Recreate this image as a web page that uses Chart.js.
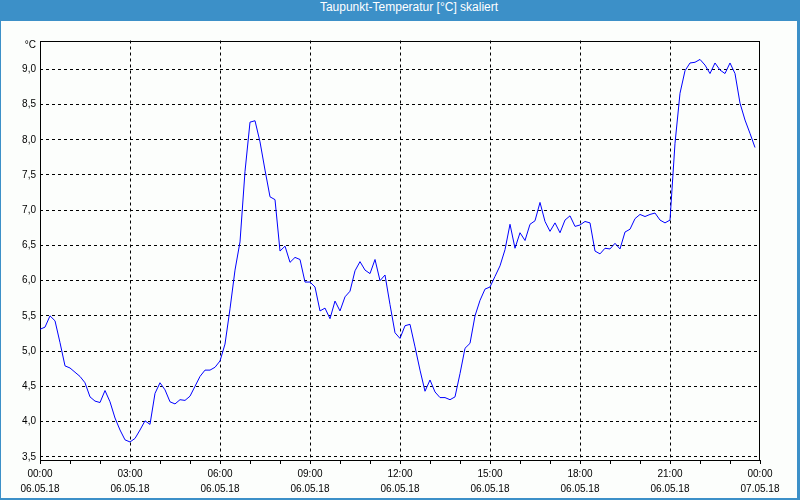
<!DOCTYPE html>
<html>
<head>
<meta charset="utf-8">
<script src="https://cdn.jsdelivr.net/npm/chart.js@4"></script>
<style>
  html, body { margin: 0; padding: 0; }
  body { width: 800px; height: 500px; position: relative; background: #3c90c8; overflow: hidden; }
  #title { position: absolute; left: 0; top: 0; width: 818px; height: 21px; line-height: 20px;
           color: #fff; font: 12px "Liberation Sans", sans-serif; text-align: center; }
  #panel { position: absolute; left: 1px; top: 21px; width: 796px; height: 477px; background: #fcfefc; }
</style>
</head>
<body>
<div id="title">Taupunkt-Temperatur [°C] skaliert</div>
<div id="panel"><canvas id="chart" width="796" height="477"></canvas></div>
<script>
// one reading every 10 minutes, starting 06.05.18 00:00
const stepMinutes = 10;
const dewPoint = [
  5.31, 5.34, 5.50, 5.43, 5.12, 4.79, 4.76, 4.70, 4.64, 4.55, 4.35, 4.29,
  4.27, 4.44, 4.28, 4.05, 3.88, 3.74, 3.71, 3.76, 3.88, 4.01, 3.96, 4.40,
  4.55, 4.45, 4.28, 4.25, 4.31, 4.30, 4.36, 4.50, 4.64, 4.73, 4.73, 4.77,
  4.86, 5.10, 5.60, 6.15, 6.55, 7.55, 8.25, 8.27, 7.97, 7.57, 7.19, 7.15,
  6.42, 6.49, 6.26, 6.33, 6.30, 5.98, 5.98, 5.91, 5.57, 5.61, 5.46, 5.71,
  5.57, 5.77, 5.85, 6.14, 6.27, 6.15, 6.10, 6.30, 6.00, 6.08, 5.66, 5.26,
  5.18, 5.36, 5.38, 5.06, 4.73, 4.43, 4.59, 4.42, 4.34, 4.34, 4.31, 4.35,
  4.68, 5.04, 5.11, 5.50, 5.72, 5.88, 5.91, 6.06, 6.21, 6.44, 6.80, 6.46,
  6.68, 6.57, 6.80, 6.85, 7.11, 6.84, 6.70, 6.82, 6.68, 6.86, 6.92, 6.77,
  6.79, 6.84, 6.82, 6.42, 6.38, 6.46, 6.45, 6.53, 6.45, 6.69, 6.73, 6.88,
  6.94, 6.91, 6.94, 6.96, 6.86, 6.82, 6.86, 7.95, 8.66, 8.98, 9.09, 9.10,
  9.14, 9.06, 8.94, 9.09, 8.99, 8.94, 9.09, 8.94, 8.52, 8.28, 8.09, 7.89
];

const timeLabels = ['00:00', '03:00', '06:00', '09:00', '12:00', '15:00', '18:00', '21:00', '00:00'];
const dateLabels = ['06.05.18', '06.05.18', '06.05.18', '06.05.18', '06.05.18', '06.05.18', '06.05.18', '06.05.18', '07.05.18'];
const yTicks = [3.5, 4.0, 4.5, 5.0, 5.5, 6.0, 6.5, 7.0, 7.5, 8.0, 8.5, 9.0];
const unitTick = 9.345;

const points = dewPoint.map((v, i) => ({ x: i * stepMinutes / 60, y: v }));

const frame = {
  id: 'frame',
  beforeDatasetsDraw(chart) {
    const a = chart.chartArea, c = chart.ctx;
    c.save();
    c.strokeStyle = '#000';
    c.lineWidth = 1;
    c.strokeRect(Math.round(a.left) + 0.5, Math.round(a.top) + 0.5,
                 Math.round(a.right - a.left) - 1, Math.round(a.bottom - a.top) - 1);
    c.restore();
  }
};

const font = { family: '"Liberation Sans", sans-serif', size: 10, lineHeight: 1.5 };

new Chart(document.getElementById('chart').getContext('2d'), {
  type: 'line',
  data: {
    datasets: [{
      data: points,
      borderColor: '#0000ff',
      borderWidth: 1,
      pointRadius: 0,
      tension: 0,
      fill: false
    }]
  },
  options: {
    responsive: false,
    animation: false,
    layout: { padding: { top: 19.5, right: 37, left: 0, bottom: 0 } },
    plugins: { legend: { display: false }, tooltip: { enabled: false } },
    scales: {
      x: {
        type: 'linear',
        min: 0,
        max: 24,
        afterBuildTicks: s => { s.ticks = Array.from({ length: 25 }, (_, h) => ({ value: h })); },
        afterFit: s => { s.height = 38; },
        ticks: {
          autoSkip: false,
          maxRotation: 0,
          padding: 3,
          color: '#000',
          font: font,
          callback: v => v % 3 === 0 ? [timeLabels[v / 3], dateLabels[v / 3]] : ''
        },
        grid: {
          color: ctx => (ctx.tick && ctx.tick.value % 3 === 0 && ctx.tick.value > 0 && ctx.tick.value < 24) ? '#000' : 'rgba(0,0,0,0)',
          tickColor: '#000',
          tickLength: 4,
          tickBorderDash: []
        },
        border: { display: false, dash: [3, 3] }
      },
      y: {
        min: 3.454,
        max: 9.409,
        afterBuildTicks: s => { s.ticks = yTicks.concat([unitTick]).map(v => ({ value: v })); },
        afterFit: s => { s.width = 39; },
        ticks: {
          padding: 4,
          color: '#000',
          font: font,
          callback: v => v === unitTick ? '°C' : v.toFixed(1).replace('.', ',')
        },
        grid: {
          color: ctx => (ctx.tick && ctx.tick.value !== unitTick) ? '#000' : 'rgba(0,0,0,0)',
          drawTicks: false
        },
        border: { display: false, dash: [3, 3] }
      }
    }
  },
  plugins: [frame]
});
</script>
</body>
</html>
